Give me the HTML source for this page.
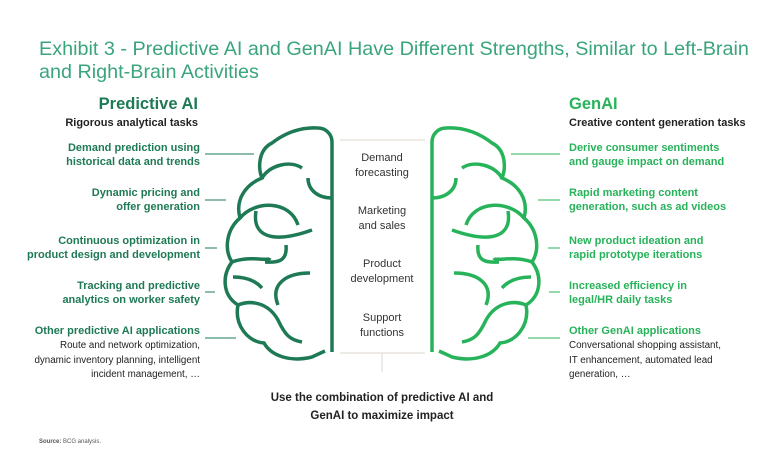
<!DOCTYPE html><html><head><style>
body{margin:0;width:768px;height:453px;background:#fff;position:relative;font-family:"Liberation Sans",sans-serif;overflow:hidden}
.a{position:absolute;white-space:nowrap}
.t{color:#3aa57c;font-size:19.8px;left:39px;line-height:23px}
.l{text-align:right;right:568px;font-size:11px;line-height:14px;color:#1e7a55;font-weight:bold}
.r{left:569px;font-size:11px;line-height:14px;color:#27b35a;font-weight:bold}
.s{font-weight:normal;color:#222;font-size:9.8px;line-height:12.5px}
.c{left:332px;width:100px;text-align:center;font-size:11px;line-height:15px;color:#333}
</style></head><body>
<div class="a t" style="top:38px">Exhibit 3 - Predictive AI and GenAI Have Different Strengths, Similar to Left-Brain<br>and Right-Brain Activities</div>
<div class="a" style="right:570px;top:95px;font-size:16.5px;font-weight:bold;color:#1e7a55">Predictive AI</div>
<div class="a" style="right:570px;top:117px;font-size:11px;font-weight:bold;color:#222">Rigorous analytical tasks</div>
<div class="a" style="left:569px;top:95px;font-size:16.5px;font-weight:bold;color:#27b35a">GenAI</div>
<div class="a" style="left:569px;top:117px;font-size:11px;font-weight:bold;color:#222">Creative content generation tasks</div>
<div class="a l" style="top:141px">Demand prediction using<br>historical data and trends</div>
<div class="a l" style="top:186px">Dynamic pricing and<br>offer generation</div>
<div class="a l" style="top:234px">Continuous optimization in<br>product design and development</div>
<div class="a l" style="top:279px">Tracking and predictive<br>analytics on worker safety</div>
<div class="a l" style="top:324px">Other predictive AI applications<br><span class="s">Route and network optimization,<br>dynamic inventory planning, intelligent<br>incident management, …</span></div>
<div class="a r" style="top:141px">Derive consumer sentiments<br>and gauge impact on demand</div>
<div class="a r" style="top:186px">Rapid marketing content<br>generation, such as ad videos</div>
<div class="a r" style="top:234px">New product ideation and<br>rapid prototype iterations</div>
<div class="a r" style="top:279px">Increased efficiency in<br>legal/HR daily tasks</div>
<div class="a r" style="top:324px">Other GenAI applications<br><span class="s">Conversational shopping assistant,<br>IT enhancement, automated lead<br>generation, …</span></div>
<div class="a c" style="top:151px">Demand<br>forecasting</div>
<div class="a c" style="top:204px">Marketing<br>and sales</div>
<div class="a c" style="top:257px">Product<br>development</div>
<div class="a c" style="top:311px">Support<br>functions</div>
<div class="a" style="left:232px;width:300px;text-align:center;top:389px;font-size:11.5px;line-height:18px;font-weight:bold;color:#222">Use the combination of predictive AI and<br>GenAI to maximize impact</div>
<div class="a" style="left:39px;top:439px;font-size:6px;color:#555"><b>Source:</b> BCG analysis.</div>
<svg class="a" style="left:0;top:0" width="768" height="453">
<g stroke="#ddd6cc" stroke-width="1"><line x1="340" y1="140" x2="425" y2="140"/><line x1="340" y1="353" x2="425" y2="353"/><line x1="382" y1="353" x2="382" y2="372"/></g>
<g fill="none" stroke="#1e7a55" stroke-width="3.5">
<path d="M332,352 V142 A14,14 0 0 0 318,128 C300,127 285,133 272,143 C258,150 258,168 262,178 C245,185 235,200 240,218 C226,230 224,250 232,262 C222,275 222,295 238,305 C234,325 248,342 264,343 C272,357 292,362 312,357 L325,351"/>
<path d="M262,178 C270,165 290,160 302,168"/>
<path d="M332,198 C318,198 308,190 308,178"/>
<path d="M240,218 C255,200 290,200 298,225"/>
<path d="M256,211 C252,235 270,245 312,230"/>
<path d="M232,262 C250,255 268,262 270,258"/>
<path d="M286,245 C288,265 272,262 265,262"/>
<path d="M238,305 C250,300 268,302 278,320 C285,335 290,340 302,342"/>
<path d="M310,273 C285,273 270,285 278,305"/>
<path d="M233,277 C245,277 255,280 262,288"/>
</g>
<g stroke="#1e7a55" stroke-width="1"><line x1="205" y1="154" x2="254" y2="154"/><line x1="205" y1="200" x2="226" y2="200"/><line x1="205" y1="248" x2="217" y2="248"/><line x1="205" y1="292" x2="215" y2="292"/><line x1="205" y1="338" x2="236" y2="338"/></g>
<g transform="translate(764,0) scale(-1,1)" fill="none" stroke="#27b35a" stroke-width="3.5">
<path d="M332,352 V142 A14,14 0 0 0 318,128 C300,127 285,133 272,143 C258,150 258,168 262,178 C245,185 235,200 240,218 C226,230 224,250 232,262 C222,275 222,295 238,305 C234,325 248,342 264,343 C272,357 292,362 312,357 L325,351"/>
<path d="M262,178 C270,165 290,160 302,168"/>
<path d="M332,198 C318,198 308,190 308,178"/>
<path d="M240,218 C255,200 290,200 298,225"/>
<path d="M256,211 C252,235 270,245 312,230"/>
<path d="M232,262 C250,255 268,262 270,258"/>
<path d="M286,245 C288,265 272,262 265,262"/>
<path d="M238,305 C250,300 268,302 278,320 C285,335 290,340 302,342"/>
<path d="M310,273 C285,273 270,285 278,305"/>
<path d="M233,277 C245,277 255,280 262,288"/>
</g>
<g stroke="#27b35a" stroke-width="1"><line x1="511" y1="154" x2="560" y2="154"/><line x1="538" y1="200" x2="560" y2="200"/><line x1="548" y1="248" x2="560" y2="248"/><line x1="549" y1="292" x2="560" y2="292"/><line x1="528" y1="338" x2="560" y2="338"/></g>
</svg>
</body></html>
